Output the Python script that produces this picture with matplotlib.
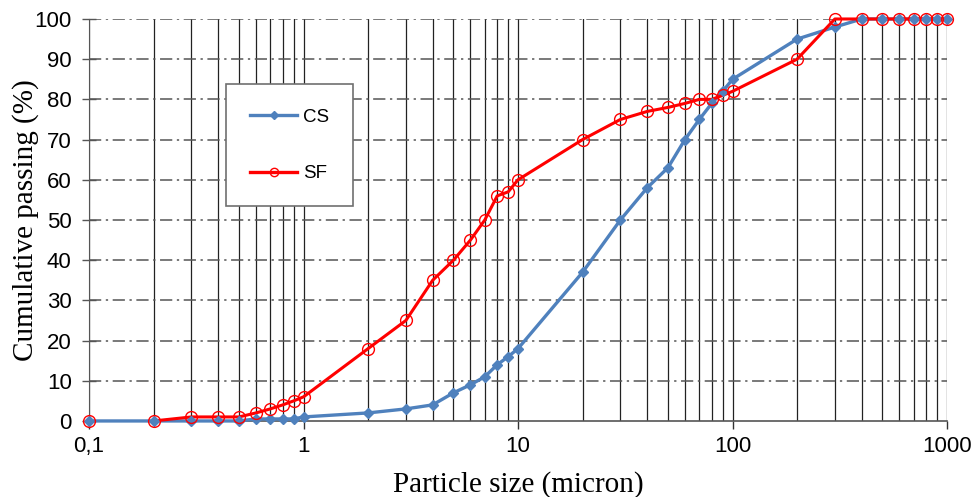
import matplotlib
matplotlib.use("Agg")
import matplotlib.pyplot as plt
from matplotlib.ticker import FixedLocator, FixedFormatter, NullFormatter
from matplotlib.lines import Line2D

# ---- data ----
sizes = [0.1, 0.2, 0.3, 0.4, 0.5, 0.6, 0.7, 0.8, 0.9, 1,
         2, 3, 4, 5, 6, 7, 8, 9, 10,
         20, 30, 40, 50, 60, 70, 80, 90, 100,
         200, 300, 400, 500, 600, 700, 800, 900, 1000]
cs = [0, 0, 0, 0, 0, 0.5, 0.5, 0.5, 0.5, 1,
      2, 3, 4, 7, 9, 11, 14, 16, 18,
      37, 50, 58, 63, 70, 75, 79, 82, 85,
      95, 98, 100, 100, 100, 100, 100, 100, 100]
sf = [0, 0, 1, 1, 1, 2, 3, 4, 5, 6,
      18, 25, 35, 40, 45, 50, 56, 57, 60,
      70, 75, 77, 78, 79, 80, 80, 81, 82,
      90, 100, 100, 100, 100, 100, 100, 100, 100]
x_major = [0.1, 1, 10, 100, 1000]
x_major_labels = ["0,1", "1", "10", "100", "1000"]
y_ticks = list(range(0, 101, 10))

blue = "#4F81BD"
red = "#FF0000"

fig = plt.figure(figsize=(9.73, 4.97), dpi=100)
ax = fig.add_axes([0.0915, 0.153, 0.8818, 0.8088])
ax.set_xscale("log")
ax.set_xlim(0.1, 1000)
ax.set_ylim(0, 100)

# grids
minor_x = [m * 10.0 ** e for e in range(-1, 3) for m in range(2, 10)]
for xv in minor_x + x_major:
    ax.axvline(xv, color="#222222", lw=0.9, zorder=1)
for yv in y_ticks[1:]:
    ax.axhline(yv, color="#555555", lw=1.1, ls=(0, (8, 3, 1.5, 3)), zorder=1)

# series
ax.plot(sizes, cs, color=blue, lw=2.4, zorder=3, clip_on=False)
ax.plot(sizes[1:], sf[1:], color=red, lw=2.2, zorder=4, clip_on=False)
ax.plot(sizes, cs, ls="none", marker="D", ms=5.5, mfc=blue, mec=blue,
        zorder=5, clip_on=False)
ax.plot(sizes, sf, ls="none", marker="o", ms=8.5, mfc="none", mec=red, mew=1.0,
        zorder=6, clip_on=False)

# legend
h_cs = Line2D([], [], color=blue, lw=2.4, marker="D", ms=4, mfc=blue, mec=blue)
h_sf = Line2D([], [], color=red, lw=2.4, marker="o", ms=6, mfc="none", mec=red, mew=1.0)
leg = ax.legend([h_cs, h_sf], ["CS", "SF"], loc="upper left",
                bbox_to_anchor=(0.1597, 0.838), borderaxespad=0,
                frameon=True, fancybox=False,
                edgecolor="#707070", framealpha=1, labelspacing=2.1,
                borderpad=1.3, handlelength=2.5, handletextpad=0.3,
                prop={"family": "Liberation Sans", "size": 13.5})
leg.get_frame().set_linewidth(1.2)
leg.set_zorder(10)

# axes styling
for s in ["top", "right"]:
    ax.spines[s].set_visible(False)
ax.spines["left"].set_color("#555555")
ax.spines["bottom"].set_color("#555555")
ax.spines["bottom"].set_linewidth(1.2)

ax.xaxis.set_major_locator(FixedLocator(x_major))
ax.xaxis.set_major_formatter(FixedFormatter(x_major_labels))
ax.xaxis.set_minor_locator(FixedLocator(minor_x))
ax.xaxis.set_minor_formatter(NullFormatter())
ax.tick_params(axis="x", which="major", length=6, width=1, color="#333333",
               direction="out", pad=5)
ax.tick_params(axis="x", which="minor", length=0)
ax.set_yticks(y_ticks)
ax.tick_params(axis="y", which="major", length=10, width=1, color="#555555",
               direction="inout", pad=7.5)
for lbl in ax.get_xticklabels() + ax.get_yticklabels():
    lbl.set_fontfamily("Liberation Sans")
    lbl.set_fontsize(16)

ax.set_xlabel("Particle size (micron)", family="Liberation Serif", fontsize=21, labelpad=10)
ax.set_ylabel("Cumulative passing (%)", family="Liberation Serif", fontsize=21, labelpad=-3)

fig.savefig("out.png", dpi=100)
